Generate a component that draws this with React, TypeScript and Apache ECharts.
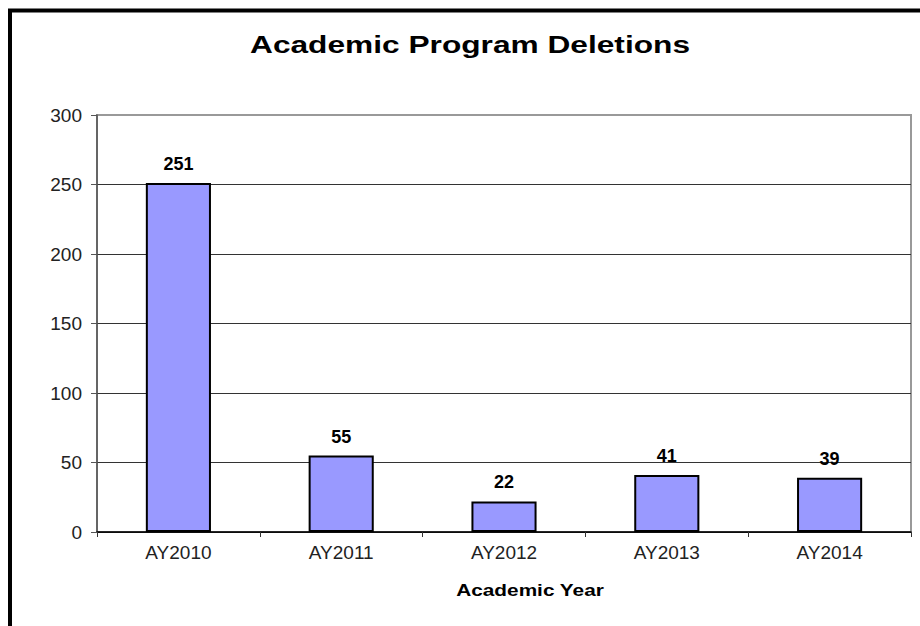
import React, { useEffect, useRef } from "react";
import * as echarts from "echarts";

const categories = ["AY2010", "AY2011", "AY2012", "AY2013", "AY2014"];
const deletions = [251, 55, 22, 41, 39];
const titleText = "Academic Program Deletions";
const xAxisTitle = "Academic Year";

export default function App() {
  const ref = useRef<HTMLDivElement>(null);
  useEffect(() => {
    if (!ref.current) return;
    const chart = echarts.init(ref.current, null, { renderer: "svg" });
    const font = "Arial, 'Liberation Sans', sans-serif";
    chart.setOption({
      animation: false,
      backgroundColor: "#fff",
      graphic: [
        {
          type: "rect",
          shape: { x: 10, y: 10.5, width: 2000, height: 2000 },
          style: { fill: "none", stroke: "#000", lineWidth: 4 },
          silent: true,
        },
        {
          type: "text",
          x: 470,
          y: 45,
          scaleX: 1.32,
          style: {
            text: titleText,
            font: "bold 24px Arial, 'Liberation Sans', sans-serif",
            fill: "#000",
            align: "center",
            verticalAlign: "middle",
          },
          silent: true,
        },
        {
          type: "text",
          x: 530,
          y: 590,
          scaleX: 1.3,
          style: {
            text: xAxisTitle,
            font: "bold 16px Arial, 'Liberation Sans', sans-serif",
            fill: "#000",
            align: "center",
            verticalAlign: "middle",
          },
          silent: true,
        },
      ],
      grid: {
        left: 97,
        right: 9,
        top: 115,
        bottom: 94,
        show: true,
        borderColor: "#999",
        borderWidth: 2,
        backgroundColor: "transparent",
      },
      xAxis: {
        type: "category",
        data: categories,
        axisLine: { lineStyle: { color: "#000", width: 1.5 } },
        axisTick: { show: true, alignWithLabel: false, length: 5, lineStyle: { color: "#333" } },
        axisLabel: { fontFamily: font, fontSize: 19, color: "#222", margin: 11 },
        splitLine: { show: false },
      },
      yAxis: {
        type: "value",
        min: 0,
        max: 300,
        interval: 50,
        axisLine: { show: true, lineStyle: { color: "#555", width: 1.5 } },
        axisTick: { show: true, length: 6, lineStyle: { color: "#555" } },
        axisLabel: { fontFamily: font, fontSize: 19, color: "#222", margin: 15 },
        splitLine: {
          show: true,
          lineStyle: { color: ["#333", "#333", "#333", "#333", "#333", "#333", "#999"], width: 1 },
        },
      },
      series: [
        {
          type: "bar",
          data: deletions,
          barWidth: "40%",
          itemStyle: { color: "#9999FF", borderColor: "#000", borderWidth: 2 },
          label: {
            show: true,
            position: "top",
            distance: 10,
            fontFamily: font,
            fontSize: 18,
            fontWeight: "bold",
            color: "#000",
          },
        },
      ],
    });
    return () => chart.dispose();
  }, []);
  return (
    <div
      ref={ref}
      style={{ position: "fixed", left: 0, top: 0, width: 920, height: 626 }}
    />
  );
}
